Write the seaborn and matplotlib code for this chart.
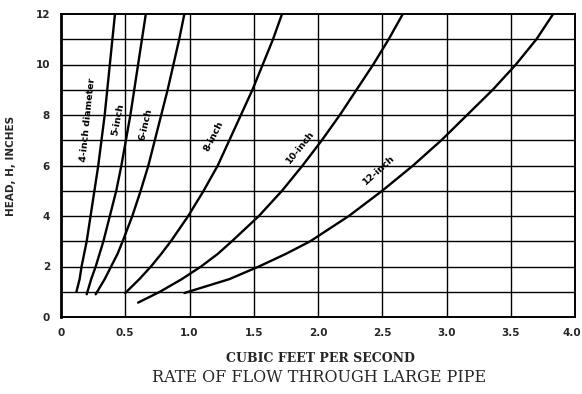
import matplotlib
matplotlib.use("Agg")
import matplotlib.pyplot as plt
import matplotlib.transforms as mtransforms
import seaborn as sns
import pandas as pd
import numpy as np

# ---- data ----
pipes = ["4-inch diameter", "5-inch", "6-inch", "8-inch", "10-inch", "12-inch"]

h_4in = [1.0, 1.5, 2, 2.5, 3, 4, 5, 6, 7, 8, 9, 10, 11, 12]
q_4in = [0.12, 0.145, 0.16, 0.18, 0.20, 0.23, 0.26, 0.29, 0.315, 0.34, 0.36, 0.38, 0.40, 0.42]

h_5in = [0.9, 1.5, 2, 2.5, 3, 4, 5, 6, 7, 8, 9, 10, 11, 12]
q_5in = [0.20, 0.235, 0.27, 0.30, 0.33, 0.38, 0.43, 0.47, 0.505, 0.54, 0.57, 0.60, 0.63, 0.66]

h_6in = [0.9, 1.5, 2, 2.5, 3, 4, 5, 6, 7, 8, 9, 10, 11, 12]
q_6in = [0.27, 0.34, 0.39, 0.44, 0.48, 0.555, 0.62, 0.68, 0.73, 0.78, 0.83, 0.875, 0.92, 0.96]

h_8in = [0.95, 1.5, 2, 2.5, 3, 4, 5, 6, 7, 8, 9, 10, 11, 12]
q_8in = [0.50, 0.61, 0.70, 0.78, 0.855, 0.99, 1.11, 1.22, 1.31, 1.40, 1.49, 1.57, 1.65, 1.72]

h_10in = [0.57, 1, 1.5, 2, 2.5, 3, 4, 5, 6, 7, 8, 9, 10, 11, 12]
q_10in = [0.60, 0.77, 0.94, 1.09, 1.22, 1.33, 1.54, 1.72, 1.88, 2.03, 2.17, 2.30, 2.43, 2.55, 2.66]

h_12in = [0.95, 1.5, 2, 2.5, 3, 4, 5, 6, 7, 8, 9, 10, 11, 12]
q_12in = [0.96, 1.31, 1.54, 1.75, 1.94, 2.24, 2.50, 2.74, 2.96, 3.16, 3.36, 3.54, 3.70, 3.83]

x_ticks = [0, 0.5, 1.0, 1.5, 2.0, 2.5, 3.0, 3.5, 4.0]
x_tick_labels = ["0", "0.5", "1.0", "1.5", "2.0", "2.5", "3.0", "3.5", "4.0"]
y_ticks = [0, 2, 4, 6, 8, 10, 12]

# label placement (data coords) and rotation
label_pos = {
    "4-inch diameter": (0.245, 7.8, 84),
    "5-inch": (0.48, 7.8, 79),
    "6-inch": (0.69, 7.6, 77),
    "8-inch": (1.22, 7.1, 63),
    "10-inch": (1.89, 6.6, 51),
    "12-inch": (2.50, 5.7, 42),
}

hs = [h_4in, h_5in, h_6in, h_8in, h_10in, h_12in]
qs = [q_4in, q_5in, q_6in, q_8in, q_10in, q_12in]
rows = []
for name, h, q in zip(pipes, hs, qs):
    for i, (hh, qq) in enumerate(zip(h, q)):
        rows.append({"pipe": name, "Q": qq, "H": hh, "order": i})
df = pd.DataFrame(rows)

sns.set_style("white")
plt.rcParams["font.family"] = ["DejaVu Sans"]

fig = plt.figure(figsize=(5.82, 3.94), dpi=100)
ax = fig.add_axes([61 / 582, 1 - 317 / 394, (575 - 61) / 582, (317 - 14) / 394])

sns.lineplot(data=df, x="Q", y="H", hue="pipe", palette=["black"] * 6,
             sort=False, estimator=None, legend=False, linewidth=1.7, ax=ax)

ax.set_xlim(0, 4.0)
ax.set_ylim(0, 12)

# grid
for xv in np.arange(0.5, 4.0, 0.5):
    ax.axvline(xv, color="black", lw=1.0, zorder=0)
for yv in range(1, 12):
    ax.axhline(yv, color="black", lw=1.0, zorder=0)

ax.set_xticks(x_ticks)
ax.set_xticklabels(x_tick_labels)
ax.set_yticks(y_ticks)
ax.set_yticks(np.arange(0.5, 12, 1.0), minor=True)
ax.tick_params(axis="both", which="major", labelsize=7.5, length=0, pad=8)
ax.tick_params(axis="y", which="minor", direction="in", length=5, width=1.0, color="black")
for lab in ax.get_xticklabels() + ax.get_yticklabels():
    lab.set_fontweight("bold")
last = ax.get_xticklabels()[-1]
last.set_transform(last.get_transform() + mtransforms.ScaledTranslation(-3 / 100, 0, fig.dpi_scale_trans))

for s in ax.spines.values():
    s.set_color("black")
    s.set_linewidth(1.4)
ax.spines["left"].set_linewidth(2.0)

ax.set_xlabel("")
ax.set_ylabel("HEAD, H, INCHES", fontsize=7.5, fontweight="bold", labelpad=14)

for name, (x, y, rot) in label_pos.items():
    ax.text(x, y, name, rotation=rot, rotation_mode="anchor", ha="center", va="bottom",
            fontsize=6.8, fontweight="bold", color="black")

fig.text(320 / 582, 1 - 358 / 394, "CUBIC FEET PER SECOND", ha="center", va="center",
         fontsize=9, family=["DejaVu Serif"], fontweight="bold")
fig.text(319 / 582, 1 - 378 / 394, "RATE OF FLOW THROUGH LARGE PIPE", ha="center", va="center",
         fontsize=11.5, family=["DejaVu Serif"])

fig.savefig("out.png", dpi=100)
